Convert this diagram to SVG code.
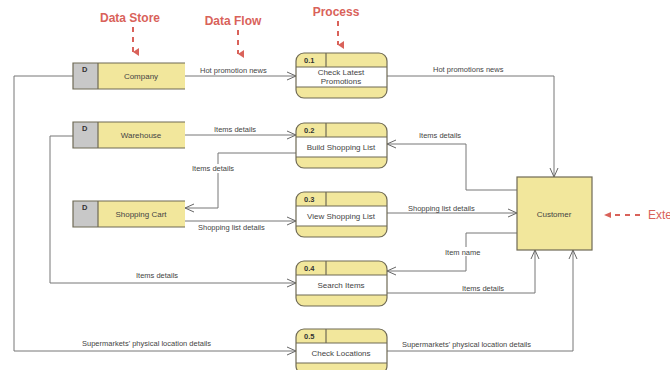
<svg xmlns="http://www.w3.org/2000/svg" width="670" height="370" viewBox="0 0 670 370">
<defs>
<marker id="arr" markerWidth="10" markerHeight="10" refX="9" refY="5" orient="auto" markerUnits="userSpaceOnUse">
<path d="M0,1 L9,5 L0,9" fill="none" stroke="#666" stroke-width="1"/>
</marker>
<marker id="red" markerWidth="8" markerHeight="8" refX="4" refY="6" orient="auto" markerUnits="userSpaceOnUse">
<path d="M0,0 L8,0 L4,6 Z" fill="#d9625a"/>
</marker>
</defs>
<style>
text{font-family:"Liberation Sans",Arial,sans-serif;fill:#444}
.lbl{font-size:7.5px}
.nm{font-size:8px;text-anchor:middle}
.id{font-size:7.5px;font-weight:bold;fill:#333}
.ann{font-size:12px;font-weight:bold;fill:#d9625a;text-anchor:middle}
.ln{fill:none;stroke:#777;stroke-width:1}
.y{fill:#f2e79c}
.g{fill:#c8c8c8}
.bd{fill:none;stroke:#6f6a55;stroke-width:1.2}
.dash{stroke:#d9625a;stroke-width:2;stroke-dasharray:5,5;fill:none}
</style>
<rect width="670" height="370" fill="#fff"/>
<g id="annotations">
<text class="ann" x="130" y="22">Data Store</text>
<line class="dash" x1="133" y1="27" x2="133" y2="52" marker-end="url(#red)"/>
<text class="ann" x="233" y="25">Data Flow</text>
<line class="dash" x1="238" y1="30" x2="238" y2="54" marker-end="url(#red)"/>
<text class="ann" x="336" y="16">Process</text>
<line class="dash" x1="338" y1="21" x2="338" y2="45" marker-end="url(#red)"/>
<line class="dash" x1="640" y1="215" x2="610" y2="215" stroke-dasharray="10,5"/>
<path d="M604,215 L611,212 L611,218 Z" fill="#d9625a"/>
<text x="648" y="219" style="font-size:12px;fill:#d9625a">Exte</text>
</g>
<g id="connectors">
<line class="ln" x1="185" y1="76" x2="296" y2="76" marker-end="url(#arr)"/>
<text class="lbl" x="200" y="73">Hot promotion news</text>
<polyline class="ln" points="73,76 14,76 14,351 296,351" marker-end="url(#arr)"/>
<text class="lbl" x="82" y="346">Supermarkets' physical location details</text>
<polyline class="ln" points="387,76 554,76 554,177" marker-end="url(#arr)"/>
<text class="lbl" x="433" y="72">Hot promotions news</text>
<line class="ln" x1="185" y1="135" x2="296" y2="135" marker-end="url(#arr)"/>
<text class="lbl" x="214" y="132">Items details</text>
<polyline class="ln" points="73,136 50,136 50,283 296,283" marker-end="url(#arr)"/>
<text class="lbl" x="136" y="278">Items details</text>
<polyline class="ln" points="296,153 218,153 218,208 185,208" marker-end="url(#arr)"/>
<rect x="191" y="164" width="52" height="9" fill="#fff"/>
<text class="lbl" x="192" y="171">Items details</text>
<line class="ln" x1="185" y1="221" x2="296" y2="221" marker-end="url(#arr)"/>
<text class="lbl" x="198" y="230">Shopping list details</text>
<line class="ln" x1="387" y1="213" x2="517" y2="213" marker-end="url(#arr)"/>
<text class="lbl" x="408" y="211">Shopping list details</text>
<polyline class="ln" points="517,190 466,190 466,144 387,144" marker-end="url(#arr)"/>
<text class="lbl" x="419" y="138">Items details</text>
<polyline class="ln" points="517,233 466,233 466,271 387,271" marker-end="url(#arr)"/>
<rect x="443" y="247" width="46" height="9" fill="#fff"/>
<text class="lbl" x="445" y="255">Item name</text>
<polyline class="ln" points="387,293 535,293 535,250" marker-end="url(#arr)"/>
<text class="lbl" x="462" y="291">Items details</text>
<polyline class="ln" points="387,351 573,351 573,250" marker-end="url(#arr)"/>
<text class="lbl" x="402" y="347">Supermarkets' physical location details</text>
</g>
<g id="store-company">
<rect class="g" x="73" y="63" width="25" height="26"/>
<rect class="y" x="98" y="63" width="87" height="26"/>
<path class="bd" d="M185,63 H73 V89 H185 M98,63 V89"/>
<text class="id" x="82" y="72">D</text>
<text class="nm" x="141" y="79">Company</text>
</g>
<g id="store-warehouse">
<rect class="g" x="73" y="122" width="25" height="26"/>
<rect class="y" x="98" y="122" width="87" height="26"/>
<path class="bd" d="M185,122 H73 V148 H185 M98,122 V148"/>
<text class="id" x="82" y="131">D</text>
<text class="nm" x="141" y="138">Warehouse</text>
</g>
<g id="store-cart">
<rect class="g" x="73" y="201" width="25" height="26"/>
<rect class="y" x="98" y="201" width="87" height="26"/>
<path class="bd" d="M185,201 H73 V227 H185 M98,201 V227"/>
<text class="id" x="82" y="210">D</text>
<text class="nm" x="141" y="217">Shopping Cart</text>
</g>
<g id="p01">
<rect class="y" x="296" y="53" width="91" height="45" rx="8"/>
<rect x="296" y="67" width="91" height="20" fill="#fff"/>
<rect class="bd" x="296" y="53" width="91" height="45" rx="8"/>
<path class="bd" d="M296,67 H387 M296,87 H387 M326,53 V67"/>
<text class="id" x="304" y="63">0.1</text>
<text class="nm" x="341" y="75">Check Latest</text>
<text class="nm" x="341" y="84">Promotions</text>
</g>
<g id="p02">
<rect class="y" x="296" y="123" width="91" height="45" rx="8"/>
<rect x="296" y="137" width="91" height="20" fill="#fff"/>
<rect class="bd" x="296" y="123" width="91" height="45" rx="8"/>
<path class="bd" d="M296,137 H387 M296,157 H387 M326,123 V137"/>
<text class="id" x="304" y="133">0.2</text>
<text class="nm" x="341" y="150">Build Shopping List</text>
</g>
<g id="p03">
<rect class="y" x="296" y="192" width="91" height="45" rx="8"/>
<rect x="296" y="206" width="91" height="20" fill="#fff"/>
<rect class="bd" x="296" y="192" width="91" height="45" rx="8"/>
<path class="bd" d="M296,206 H387 M296,226 H387 M326,192 V206"/>
<text class="id" x="304" y="202">0.3</text>
<text class="nm" x="341" y="219">View Shopping List</text>
</g>
<g id="p04">
<rect class="y" x="296" y="261" width="91" height="45" rx="8"/>
<rect x="296" y="275" width="91" height="20" fill="#fff"/>
<rect class="bd" x="296" y="261" width="91" height="45" rx="8"/>
<path class="bd" d="M296,275 H387 M296,295 H387 M326,261 V275"/>
<text class="id" x="304" y="271">0.4</text>
<text class="nm" x="341" y="288">Search Items</text>
</g>
<g id="p05">
<rect class="y" x="296" y="329" width="91" height="45" rx="8"/>
<rect x="296" y="343" width="91" height="20" fill="#fff"/>
<rect class="bd" x="296" y="329" width="91" height="45" rx="8"/>
<path class="bd" d="M296,343 H387 M296,363 H387 M326,329 V343"/>
<text class="id" x="304" y="339">0.5</text>
<text class="nm" x="341" y="356">Check Locations</text>
</g>
<g id="customer">
<rect class="y" x="517" y="177" width="75" height="73" stroke="#6f6a55" stroke-width="1.2"/>
<text class="nm" x="554" y="217">Customer</text>
</g>
</svg>
